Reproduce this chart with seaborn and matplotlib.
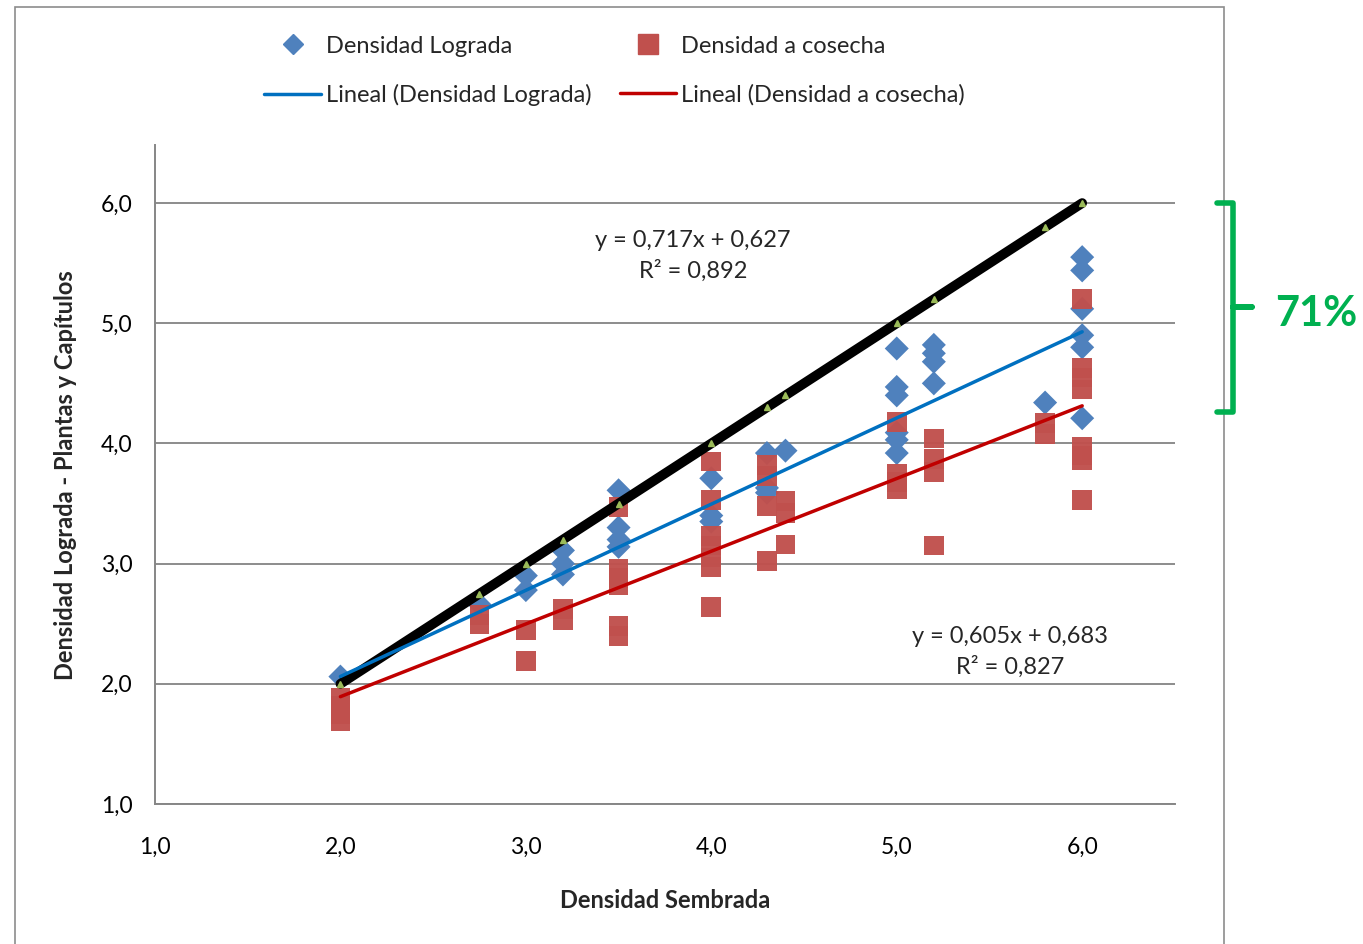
import numpy as np
import pandas as pd
import matplotlib
matplotlib.use("Agg")
import matplotlib.pyplot as plt
from matplotlib.lines import Line2D
from matplotlib.patches import Rectangle
from matplotlib.ticker import FuncFormatter
import seaborn as sns

# --- data ---
sembrada_lograda = [2.0, 2.75, 3.0, 3.0, 3.2, 3.2, 3.2, 3.5, 3.5, 3.5, 3.5,
                    4.0, 4.0, 4.0, 4.3, 4.3, 4.3, 4.4,
                    5.0, 5.0, 5.0, 5.0, 5.0, 5.0, 5.2, 5.2, 5.2, 5.2, 5.8,
                    6.0, 6.0, 6.0, 6.0, 6.0, 6.0]
lograda = [2.06, 2.66, 2.90, 2.78, 3.11, 3.00, 2.91, 3.61, 3.30, 3.20, 3.14,
           3.71, 3.40, 3.35, 3.92, 3.63, 3.59, 3.94,
           4.79, 4.47, 4.40, 4.09, 4.03, 3.92, 4.82, 4.75, 4.68, 4.50, 4.34,
           5.55, 5.44, 5.12, 4.90, 4.80, 4.21]

sembrada_cosecha = [2.0, 2.0, 2.0, 2.0, 2.75, 2.75, 3.0, 3.0, 3.2, 3.2,
                    3.5, 3.5, 3.5, 3.5, 3.5, 3.5,
                    4.0, 4.0, 4.0, 4.0, 4.0, 4.0, 4.0,
                    4.3, 4.3, 4.3, 4.3, 4.4, 4.4, 4.4,
                    5.0, 5.0, 5.0, 5.0, 5.2, 5.2, 5.2, 5.2, 5.8, 5.8,
                    6.0, 6.0, 6.0, 6.0, 6.0, 6.0, 6.0, 6.0]
cosecha = [1.88, 1.82, 1.75, 1.69, 2.57, 2.50, 2.45, 2.19, 2.62, 2.53,
           3.47, 2.96, 2.88, 2.82, 2.48, 2.40,
           3.85, 3.53, 3.23, 3.15, 3.05, 2.97, 2.64,
           3.82, 3.73, 3.48, 3.02, 3.52, 3.42, 3.16,
           4.18, 3.75, 3.68, 3.62, 4.04, 3.87, 3.76, 3.15, 4.17, 4.08,
           5.20, 4.63, 4.55, 4.45, 3.97, 3.90, 3.86, 3.53]

densidades = [2.0, 2.75, 3.0, 3.2, 3.5, 4.0, 4.3, 4.4, 5.0, 5.2, 5.8, 6.0]

fit_lograda = (0.717, 0.627)
fit_cosecha = (0.605, 0.683)
r2_lograda = "0,892"
r2_cosecha = "0,827"

BLUE = "#4F81BD"
RED = "#C0504D"
LINE_BLUE = "#0070C0"
LINE_RED = "#C00000"
GREEN = "#00B050"

sns.set_style("white")
plt.rcParams["font.family"] = ["Lato", "DejaVu Sans"]

fig = plt.figure(figsize=(13.63, 9.44), dpi=100)
ax = fig.add_axes([0.1137, 0.1483, 0.862 - 0.1137, 0.846 - 0.1483])

df_l = pd.DataFrame({"x": sembrada_lograda, "y": lograda})
df_c = pd.DataFrame({"x": sembrada_cosecha, "y": cosecha})
df_1 = pd.DataFrame({"x": densidades, "y": densidades})

sns.scatterplot(data=df_l, x="x", y="y", ax=ax, marker="D", s=150,
                color=BLUE, edgecolor="none", zorder=3)
sns.scatterplot(data=df_c, x="x", y="y", ax=ax, marker="s", s=200,
                color=RED, edgecolor="none", alpha=0.97, zorder=4)

# 1:1 reference line
sns.lineplot(data=df_1, x="x", y="y", ax=ax, color="black", lw=7,
             zorder=5, estimator=None)
ax.plot(densidades, densidades, ls="none", marker="^", ms=4,
        color="#9BBB59", zorder=6)

xf = np.array([min(sembrada_lograda), max(sembrada_lograda)])
df_fl = pd.DataFrame({"x": xf, "y": fit_lograda[0] * xf + fit_lograda[1]})
df_fc = pd.DataFrame({"x": xf, "y": fit_cosecha[0] * xf + fit_cosecha[1]})
sns.lineplot(data=df_fl, x="x", y="y", ax=ax, color=LINE_BLUE, lw=2.5,
             zorder=7, estimator=None)
sns.lineplot(data=df_fc, x="x", y="y", ax=ax, color=LINE_RED, lw=2.5,
             zorder=7, estimator=None)

ax.set_xlim(1.0, 6.5)
ax.set_ylim(1.0, 6.48)
ax.set_xticks([1, 2, 3, 4, 5, 6])
ax.set_yticks([1, 2, 3, 4, 5, 6])
fmt = FuncFormatter(lambda v, p: f"{v:.1f}".replace(".", ","))
ax.xaxis.set_major_formatter(fmt)
ax.yaxis.set_major_formatter(fmt)
ax.tick_params(axis="both", labelsize=16.5, colors="#000000", length=6,
               width=1, direction="out", color="#868686", pad=10)
ax.tick_params(axis="x", pad=18)
ax.grid(axis="y", color="#8C8C8C", lw=1.4)
ax.grid(axis="x", visible=False)
for s in ["top", "right"]:
    ax.spines[s].set_visible(False)
for s in ["left", "bottom"]:
    ax.spines[s].set_color("#868686")
    ax.spines[s].set_linewidth(1.4)

ax.set_xlabel("Densidad Sembrada", fontsize=17, fontweight="bold", labelpad=22)
ax.set_ylabel("Densidad Lograda - Plantas y Capítulos", fontsize=17,
              fontweight="bold", labelpad=17)

eq_kw = dict(fontsize=17, ha="center", va="center", linespacing=1.45, zorder=8)
ax.text(3.9, 5.56, f"y = {fit_lograda[0]:.3f}x + {fit_lograda[1]:.3f}".replace(".", ",")
        + f"\nR² = {r2_lograda}", **eq_kw)
ax.text(5.61, 2.265, f"y = {fit_cosecha[0]:.3f}x + {fit_cosecha[1]:.3f}".replace(".", ",")
        + f"\nR² = {r2_cosecha}", **eq_kw)

handles = [
    Line2D([], [], ls="none", marker="D", ms=10, color=BLUE),
    Line2D([], [], color=LINE_BLUE, lw=2.5),
    Line2D([], [], ls="none", marker="s", ms=14, color=RED),
    Line2D([], [], color=LINE_RED, lw=2.5),
]
labels = ["Densidad Lograda", "Lineal (Densidad Lograda)",
          "Densidad a cosecha", "Lineal (Densidad a cosecha)"]
fig.legend(handles, labels, ncol=2, loc="center", bbox_to_anchor=(0.451, 0.925),
           frameon=False, fontsize=17, handlelength=2.4, handletextpad=0.2,
           columnspacing=1.2, labelspacing=1.15)

# green bracket with 71%
W, H = 1363.0, 944.0
def fx(p):
    return p / W
def fy(p):
    return 1 - p / H
bx = 1233
brace = Line2D([fx(1217), fx(bx), fx(bx), fx(1252), fx(bx), fx(bx), fx(1217)],
               [fy(203), fy(203), fy(307), fy(307), fy(307), fy(412), fy(412)],
               transform=fig.transFigure, color=GREEN, lw=4,
               solid_joinstyle="round")
fig.add_artist(brace)
fig.text(fx(1316), fy(314), "71%", color=GREEN, fontsize=30, fontweight="bold",
         ha="center", va="center")

# outer chart border
fig.add_artist(Rectangle((fx(15), -0.01), fx(1224) - fx(15), fy(7) + 0.01,
                         transform=fig.transFigure, fill=False,
                         edgecolor="#8C8C8C", lw=1.2))

fig.savefig("out.png", dpi=100)
